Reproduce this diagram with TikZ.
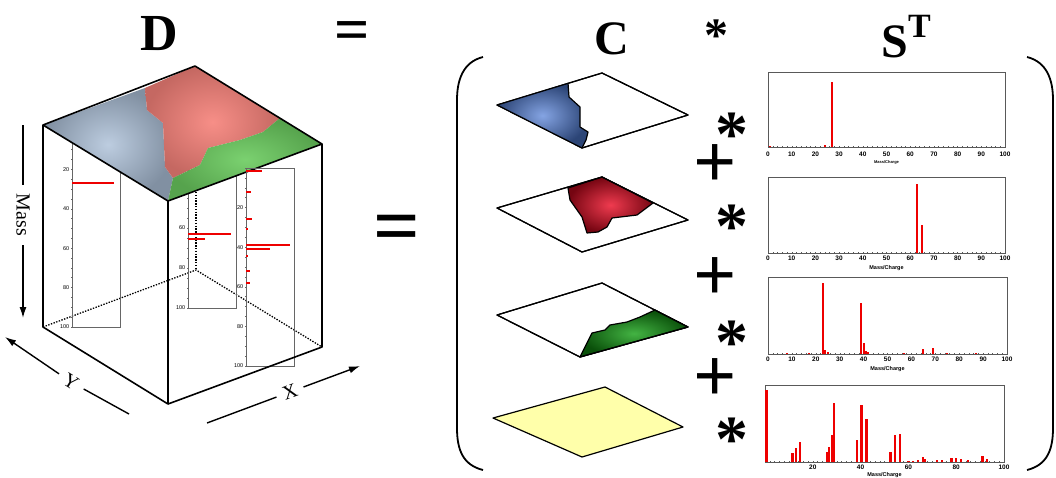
\documentclass[tikz,border=0pt]{standalone}
\usepackage{fontspec}
\setmainfont{Liberation Serif}
\setsansfont{Liberation Sans}
\usetikzlibrary{arrows.meta}
\definecolor{topblue}{RGB}{172,192,216}
\definecolor{topred}{RGB}{246,130,122}
\definecolor{topgreen}{RGB}{108,204,96}
\definecolor{compblue}{RGB}{80,125,215}
\definecolor{compred}{RGB}{235,10,35}
\definecolor{compgreen}{RGB}{20,160,20}
\definecolor{compyellow}{RGB}{255,255,170}
\definecolor{peakred}{RGB}{238,0,0}
\newcommand{\starglyph}{\raisebox{-0.27em}[0.42em][0pt]{*}}

\begin{document}
\begin{tikzpicture}[x=1pt, y=-1pt,
    edge/.style={line width=1.6pt, line join=round},
    hidden/.style={line width=1.3pt, dash pattern=on 1.4pt off 1.4pt},
    strip/.style={draw=black!60, line width=0.6pt},
    striplbl/.style={font=\sffamily\fontsize{5.5}{5.5}\selectfont, anchor=east, inner sep=0.5pt},
    sheet/.style={line width=1.2pt, line join=round},
    panel/.style={draw=black!65, line width=0.7pt},
    peak/.style={draw=peakred, line width=2.2pt},
    ticklbl/.style={font=\sffamily\bfseries\fontsize{6.5}{6.5}\selectfont, inner sep=0pt},
    axislbl/.style={font=\sffamily\bfseries\fontsize{5.5}{5.5}\selectfont, inner sep=0pt},
    title/.style={font=\bfseries\fontsize{52}{52}\selectfont, inner sep=0pt},
    op/.style={font=\bfseries\fontsize{62}{62}\selectfont, inner sep=0pt},
    dirlbl/.style={font=\fontsize{20}{20}\selectfont, inner sep=7pt},
    dirarrow/.style={line width=1.4pt, -{Latex[length=11pt,width=7pt]}},
    bracket/.style={line width=1.8pt}]
    \useasboundingbox (0,0) rectangle (1056,477);

    % titles
    \node[title] (Dtitle) at (159,34) {D};
    \node[op] (eqtop) at (352,36) {=};
    \node[title, font=\bfseries\fontsize{48}{48}\selectfont] (Ctitle) at (612,39) {C};
    \node[op, font=\bfseries\fontsize{48}{48}\selectfont] (startitle) at (716,28) {\starglyph};
    \node[title, font=\bfseries\fontsize{48}{48}\selectfont] (Stitle) at (906,37)
        {S\raisebox{0.42em}{\fontsize{34}{34}\selectfont T}};

    % hidden edges of the cube
    \draw[hidden] (43,327) -- (196,270) -- (322,347);
    \draw[hidden] (196,66) -- (196,270);

    % spectrum strip, left
    \begin{scope}[shift={(72,130)}, x=1pt, y=-1.97pt]
        \draw[strip] (0,0) rectangle (48,100);
        \foreach \m in {0,5,...,100} \draw[strip] (0,\m) -- (-1.5,\m);
        \foreach \m in {20,40,...,100} \node[striplbl] (la\m) at (-2,\m) {\m};
        \fill[peakred] (0,26.5) rectangle (42,27.5);
    \end{scope}
    % spectrum strip, middle
    \begin{scope}[shift={(188,108)}, x=1pt, y=-2pt]
        \draw[strip] (0,0) rectangle (48,100);
        \foreach \m in {0,5,...,100} \draw[strip] (0,\m) -- (-1.5,\m);
        \foreach \m in {20,40,...,100} \node[striplbl] (lb\m) at (-2,\m) {\m};
        \fill[peakred] (0,62.5) rectangle (43,63.5);
        \fill[peakred] (0,65) rectangle (17,66);
    \end{scope}

    % top face of D
    \shade[inner color=topblue!80!white, outer color=topblue!75!black]
        (43,125) -- (145,88) -- (147,110) -- (163,123) -- (165,167) -- (173,178) -- (168,201) -- cycle;
    \shade[inner color=topred!90!white, outer color=topred!80!black]
        (145,88) -- (195,66) -- (280,118) -- (263,132) -- (240,140) -- (208,148) -- (200,165)
        -- (173,178) -- (165,167) -- (163,123) -- (147,110) -- cycle;
    \shade[inner color=topgreen!90!white, outer color=topgreen!80!black]
        (173,178) -- (200,165) -- (208,148) -- (240,140) -- (263,132) -- (280,118) -- (322,144) -- (168,201) -- cycle;
    \draw[edge] (43,125) -- (195,66) -- (322,144) -- (168,201) -- cycle;

    % spectrum strip, right
    \begin{scope}[shift={(246,168)}, x=1pt, y=-1.98pt]
        \draw[strip] (0,0) rectangle (48,100);
        \foreach \m in {0,5,...,100} \draw[strip] (0,\m) -- (-1.5,\m);
        \foreach \m in {20,40,...,100} \node[striplbl] (lc\m) at (-2,\m) {\m};
        \foreach \m/\w in {1.5/16, 12/5, 26/6, 31/1.5, 39/44, 41/24, 44.5/2, 52/4, 58/4}
            \fill[peakred] (0,\m-0.5) rectangle (\w,\m+0.5);
    \end{scope}

    % front edges of D
    \draw[edge] (43,125) -- (43,327) -- (168,404) -- (322,347) -- (322,144);
    \draw[edge] (168,201) -- (168,404);

    % axes of D
    \coordinate (masstop) at (23,125);
    \coordinate (massend) at (23,318);
    \node[dirlbl, rotate=-90, inner sep=9pt] (masslbl) at (23,215) {Mass};
    \draw[line width=1.4pt] (masstop) -- (masslbl);
    \draw[dirarrow] (masslbl) -- (massend);

    \coordinate (ytip) at (5,337);
    \coordinate (yend) at (129,414);
    \node[dirlbl, rotate=-32] (ylbl) at (71,382) {Y};
    \draw[dirarrow] (ylbl) -- (ytip);
    \draw[line width=1.4pt] (ylbl) -- (yend);

    \coordinate (xstart) at (207,423);
    \coordinate (xtip) at (360,366);
    \node[dirlbl, rotate=20] (xlbl) at (290,392) {X};
    \draw[line width=1.4pt] (xstart) -- (xlbl);
    \draw[dirarrow] (xlbl) -- (xtip);

    % big equals sign
    \node[op, font=\bfseries\fontsize{82}{82}\selectfont] (eqmid) at (397,234) {=};

    % brackets
    \draw[bracket] (483,57) .. controls (463,62) and (457,80) .. (457,100) -- (457,428)
        .. controls (457,450) and (463,465) .. (483,470);
    \draw[bracket] (1027,57) .. controls (1047,62) and (1053,80) .. (1053,100) -- (1053,428)
        .. controls (1053,450) and (1047,465) .. (1027,470);

    % concentration maps C
    \draw[sheet, fill=white] (497,105) -- (602,73) -- (688,115) -- (582,148) -- cycle;
    \shade[inner color=compblue!70!white, outer color=compblue!55!black]
        (497,105) -- (568,83) -- (569,97) -- (580,107) -- (580,127) -- (588,132) -- (586,140) -- (582,148) -- cycle;
    \draw[sheet] (568,83) -- (569,97) -- (580,107) -- (580,127) -- (588,132) -- (586,140) -- (582,148);
    \draw[sheet] (497,105) -- (602,73) -- (688,115) -- (582,148) -- cycle;

    \draw[sheet, fill=white] (497,208) -- (602,177) -- (688,220) -- (582,252) -- cycle;
    \shade[inner color=compred!80!white, outer color=compred!50!black]
        (568,188) -- (602,177) -- (653,203) -- (637,215) -- (612,218) -- (607,227) -- (598,232)
        -- (587,233) -- (582,217) -- (570,200) -- cycle;
    \draw[sheet] (568,188) -- (602,177) -- (653,203) -- (637,215) -- (612,218) -- (607,227) -- (598,232)
        -- (587,233) -- (582,217) -- (570,200) -- cycle;
    \draw[sheet] (497,208) -- (602,177) -- (688,220) -- (582,252) -- cycle;

    \draw[sheet, fill=white] (497,315) -- (602,283) -- (688,327) -- (580,357) -- cycle;
    \shade[inner color=compgreen!80!white, outer color=compgreen!50!black]
        (655,310) -- (688,327) -- (580,357) -- (587,343) -- (592,333) -- (605,330) -- (610,325)
        -- (627,322) -- (640,317) -- cycle;
    \draw[sheet] (655,310) -- (688,327) -- (580,357) -- (587,343) -- (592,333) -- (605,330) -- (610,325)
        -- (627,322) -- (640,317) -- cycle;
    \draw[sheet] (497,315) -- (602,283) -- (688,327) -- (580,357) -- cycle;

    \draw[sheet, fill=compyellow] (493,418) -- (605,387) -- (683,427) -- (582,457) -- cycle;

    % operators between C and S
    \foreach \i/\y in {1/125, 2/217, 3/333, 4/430}
        \node[op, font=\bfseries\fontsize{66}{66}\selectfont] (star\i) at (732,\y) {\starglyph};
    \foreach \i/\y in {1/166, 2/279, 3/380}
        \node[op, font=\bfseries\fontsize{76}{76}\selectfont] (plus\i) at (715,\y) {+};

    % spectra S^T
    \begin{scope}[shift={(768,147)}, x=2.37pt, y=1pt]
        \draw[panel] (0,0) rectangle (100,75);
        \foreach \t in {0,2,...,100} \draw[panel, line width=0.4pt] (\t,0) -- (\t,1.5);
        \foreach \t in {0,10,...,100} \node[ticklbl] (sa\t) at (\t,-7) {\t};
        \node[axislbl, font=\sffamily\bfseries\fontsize{4}{4}\selectfont] (saaxis) at (50,-15) {Mass/Charge};
        \foreach \m/\h in {1/1, 24/2, 27/65}
            \draw[peak] (\m,0) -- (\m,\h);
    \end{scope}
    \begin{scope}[shift={(768,253)}, x=2.37pt, y=1pt]
        \draw[panel] (0,0) rectangle (100,76);
        \foreach \t in {0,2,...,100} \draw[panel, line width=0.4pt] (\t,0) -- (\t,1.5);
        \foreach \t in {0,10,...,100} \node[ticklbl] (sb\t) at (\t,-5) {\t};
        \node[axislbl] (sbaxis) at (50,-15) {Mass/Charge};
        \foreach \m/\h in {63/69, 65/28}
            \draw[peak] (\m,0) -- (\m,\h);
    \end{scope}
    \begin{scope}[shift={(768,354)}, x=2.39pt, y=1pt]
        \draw[panel] (0,0) rectangle (100,77);
        \foreach \t in {0,2,...,100} \draw[panel, line width=0.4pt] (\t,0) -- (\t,1.5);
        \foreach \t in {10,20,...,70} \draw[panel, line width=0.4pt] (0,\t) -- (0.6,\t);
        \foreach \t in {0,10,...,100} \node[ticklbl] (sc\t) at (\t,-5) {\t};
        \node[axislbl] (scaxis) at (50,-15) {Mass/Charge};
        \foreach \m/\h in {8/1, 17/1, 23/71, 24/4, 25/2, 39/51, 40/11, 41/3, 42/2, 57/1.5, 65/5, 69/6, 75/1, 87/1}
            \draw[peak] (\m,0) -- (\m,\h);
    \end{scope}
    \begin{scope}[shift={(765,462)}, x=2.39pt, y=1pt]
        \draw[panel] (0,0) rectangle (100,77);
        \foreach \t in {0,2,...,100} \draw[panel, line width=0.4pt] (\t,0) -- (\t,1.5);
        \foreach \t in {20,40,...,100} \node[ticklbl] (sd\t) at (\t,-5) {\t};
        \node[axislbl] (sdaxis) at (50,-13) {Mass/Charge};
        \foreach \m/\h in {0.6/72, 11.5/9, 13/14, 14.6/20, 25.8/10, 26.7/15, 27.9/27, 28.8/59,
                38.6/22, 40.4/57, 42.5/43, 52.5/10, 54.3/27, 56.4/28, 60/1, 62/1, 64/2, 66/5, 67/3,
                72/2, 74/2, 78/4, 80/4, 82/3, 85/2, 91/6, 93/3}
            \draw[peak] (\m,0) -- (\m,\h);
    \end{scope}
\end{tikzpicture}
\end{document}
